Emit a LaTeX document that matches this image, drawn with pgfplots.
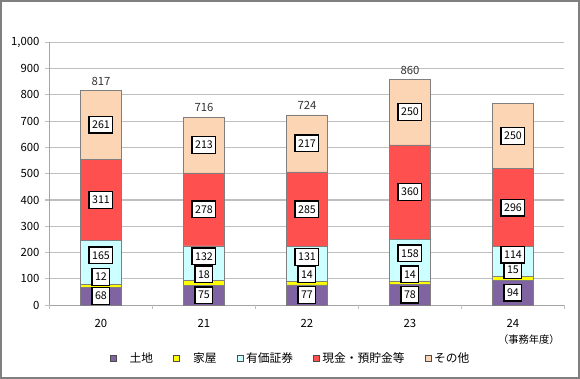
\documentclass[border=0pt]{standalone}
\usepackage{pgfplots}
\usepackage{pgfplotstable}
\pgfplotsset{compat=1.18}
\usepackage{fontspec}
\setmainfont{Noto Sans CJK JP}
\definecolor{cLand}{HTML}{8064A2}
\definecolor{cHouse}{HTML}{FFFF00}
\definecolor{cSec}{HTML}{CCFFFF}
\definecolor{cCash}{HTML}{FF5050}
\definecolor{cOther}{HTML}{FCD5B5}
\definecolor{cGrid}{HTML}{BFBFBF}
\definecolor{cEdge}{HTML}{7F7F7F}
\tikzset{boxlabel/.style={fill=white, draw=black, line width=1pt,
    font=\fontsize{8}{9}\selectfont, inner xsep=2.2pt, inner ysep=1pt,
    minimum height=12.5pt, text=black}}
\pgfplotsset{
  common/.style={
    scale only axis,
    width=386.25pt, height=197pt,
    xmin=-0.5, xmax=4.5,
    ymin=0, ymax=1000,
    at={(37.1pt,55.4pt)}, anchor=south west,
  },
  lbl/.style={only marks, mark=none, point meta=explicit,
    nodes near coords={\pgfmathprintnumber[assume math mode=true]{\pgfplotspointmeta}},
    nodes near coords align=center,
    every node near coord/.style={boxlabel, anchor=center, yshift=#1}},
}
\pgfplotstableread{
x land house sec cash other
0 68 12 165 311 261
1 75 18 132 278 213
2 77 14 131 285 217
3 78 14 158 360 250
4 94 15 114 296 250
}\datatable
\pgfplotstableread{
x total
0 817
1 716
2 724
3 860
}\totaltable
\begin{document}
\begin{tikzpicture}[x=1pt,y=1pt]
\draw[cEdge, line width=1.2pt] (0.6,0.9) rectangle (434.4,283.6);
\begin{axis}[
  common,
  ybar stacked,
  bar width=30.75pt,
  xtick={0,1,2,3,4},
  xticklabels={20,21,22,23,24},
  ytick={0,100,...,1000},
  axis x line*=bottom,
  axis y line*=left,
  axis line style={cEdge!70, line width=0.8pt},
  tick align=outside,
  major tick length=3pt,
  xtick style={draw=none},
  ytick style={draw=cGrid, line width=0.8pt},
  extra x ticks={-0.5,0.5,1.5,2.5,3.5,4.5},
  extra x tick labels={},
  extra x tick style={xtick style={draw=cGrid, line width=0.8pt}, grid=none},
  ymajorgrids,
  grid style={cGrid, line width=0.8pt},
  tick label style={font=\fontsize{8.5}{10}\selectfont, text=black},
  xticklabel style={yshift=-4pt},
  yticklabel style={xshift=-1pt},
  /pgf/number format/.cd, 1000 sep={,}, assume math mode=true,
  /pgfplots/.cd,
  legend style={at={(0.469,-0.204)}, anchor=center, draw=none, fill=none,
    legend columns=5, font=\fontsize{8.8}{10}\selectfont,
    /tikz/every even column/.append style={column sep=13pt},
    /tikz/every odd column/.append style={column sep=0pt}},
  legend image code/.code={\draw[#1, draw=black!70, line width=0.6pt] (0pt,-2.2pt) rectangle (4.5pt,2.3pt);},
  clip=false,
]
\addplot[fill=cLand, draw=cEdge, line width=0.5pt] table[x=x,y=land] {\datatable};
\addlegendentry{\hspace{7.5pt}土地}
\addplot[fill=cHouse, draw=cEdge, line width=0.5pt] table[x=x,y=house] {\datatable};
\addlegendentry{\hspace{8pt}家屋}
\addplot[fill=cSec, draw=cEdge, line width=0.5pt] table[x=x,y=sec] {\datatable};
\addlegendentry{有価証券}
\addplot[fill=cCash, draw=cEdge, line width=0.5pt] table[x=x,y=cash] {\datatable};
\addlegendentry{現金・預貯金等}
\addplot[fill=cOther, draw=cEdge, line width=0.5pt] table[x=x,y=other] {\datatable};
\addlegendentry{その他}
\node[font=\fontsize{7.7}{9}\selectfont] at (rel axis cs:0.931,-0.133) {（事務年度）};
\end{axis}
\begin{axis}[
  common,
  hide axis,
  clip=false,
]
\addplot[lbl=0pt] table[x=x, y expr={\thisrow{land}/2}, meta=land] {\datatable};
\addplot[lbl=6.4pt] table[x=x, y expr={\thisrow{land}+\thisrow{house}/2}, meta=house] {\datatable};
\addplot[lbl=5.2pt] table[x=x, y expr={\thisrow{land}+\thisrow{house}+\thisrow{sec}/2}, meta=sec] {\datatable};
\addplot[lbl=0pt] table[x=x, y expr={\thisrow{land}+\thisrow{house}+\thisrow{sec}+\thisrow{cash}/2}, meta=cash] {\datatable};
\addplot[lbl=0pt] table[x=x, y expr={\thisrow{land}+\thisrow{house}+\thisrow{sec}+\thisrow{cash}+\thisrow{other}/2}, meta=other] {\datatable};
\addplot[only marks, mark=none, point meta=y,
  nodes near coords={\pgfmathprintnumber[assume math mode=true]{\pgfplotspointmeta}},
  every node near coord/.append style={anchor=south, inner sep=2pt, yshift=1.5pt,
    font=\fontsize{8.5}{10}\selectfont, text=black!80}]
  table[x=x,y=total] {\totaltable};
\end{axis}
\end{tikzpicture}
\end{document}
